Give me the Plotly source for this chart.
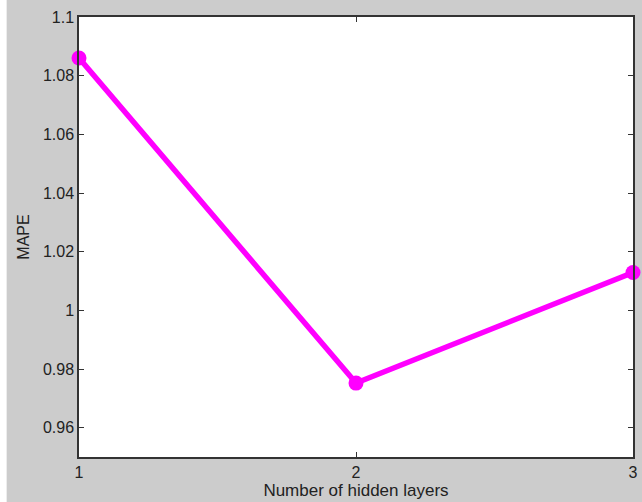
import plotly.graph_objects as go

hidden_layers = [1, 2, 3]
mape = [1.086, 0.9752, 1.0129]
y_ticks = [0.96, 0.98, 1.0, 1.02, 1.04, 1.06, 1.08, 1.1]
y_tick_text = ["0.96", "0.98", "1", "1.02", "1.04", "1.06", "1.08", "1.1"]
x_ticks = [1, 2, 3]

W, H = 642, 502
L, R, T, B = 79, 4, 17, 45
pw, ph = W - L - R, H - T - B
FONT = "Liberation Sans, Arial, Helvetica"

fig = go.Figure()
fig.add_trace(go.Scatter(
    x=hidden_layers, y=mape, mode="lines+markers",
    line=dict(color="#ff00ff", width=5.5),
    marker=dict(color="#ff00ff", size=15),
    cliponaxis=False, showlegend=False,
))

axis_common = dict(
    showgrid=False, zeroline=False, showline=True, linecolor="#333333", linewidth=1.5,
    mirror="ticks", ticks="inside", ticklen=5, tickcolor="#333333", tickwidth=1,
    tickfont=dict(family=FONT, size=16, color="#222222"),
)
fig.update_xaxes(range=[1, 3], tickvals=x_ticks, ticktext=[str(v) for v in x_ticks],
                 title=dict(text="Number of hidden layers", standoff=2,
                            font=dict(family=FONT, size=17, color="#222222")),
                 **axis_common)
fig.update_yaxes(range=[0.95, 1.1], tickvals=y_ticks, ticktext=y_tick_text,
                 title=dict(text="MAPE", standoff=9,
                            font=dict(family=FONT, size=16, color="#222222")),
                 **axis_common)

# white strips at the image border (top and left)
fig.add_shape(type="rect", xref="paper", yref="paper",
              x0=-L / pw - 0.01, x1=(W - L) / pw + 0.01,
              y0=(H - T - 5) / ph, y1=(H - T) / ph + 0.01,
              fillcolor="white", line_width=0, layer="below")
fig.add_shape(type="rect", xref="paper", yref="paper",
              x0=-L / pw - 0.01, x1=(6 - L) / pw,
              y0=-B / ph - 0.01, y1=(H - T) / ph + 0.01,
              fillcolor="white", line_width=0, layer="below")

fig.update_layout(
    width=W, height=H, margin=dict(l=L, r=R, t=T, b=B),
    paper_bgcolor="#cccccc", plot_bgcolor="white",
)
fig.write_html("out.html", config={"displayModeBar": False},
               post_script="document.body.style.margin='0';document.body.style.overflow='hidden';")
